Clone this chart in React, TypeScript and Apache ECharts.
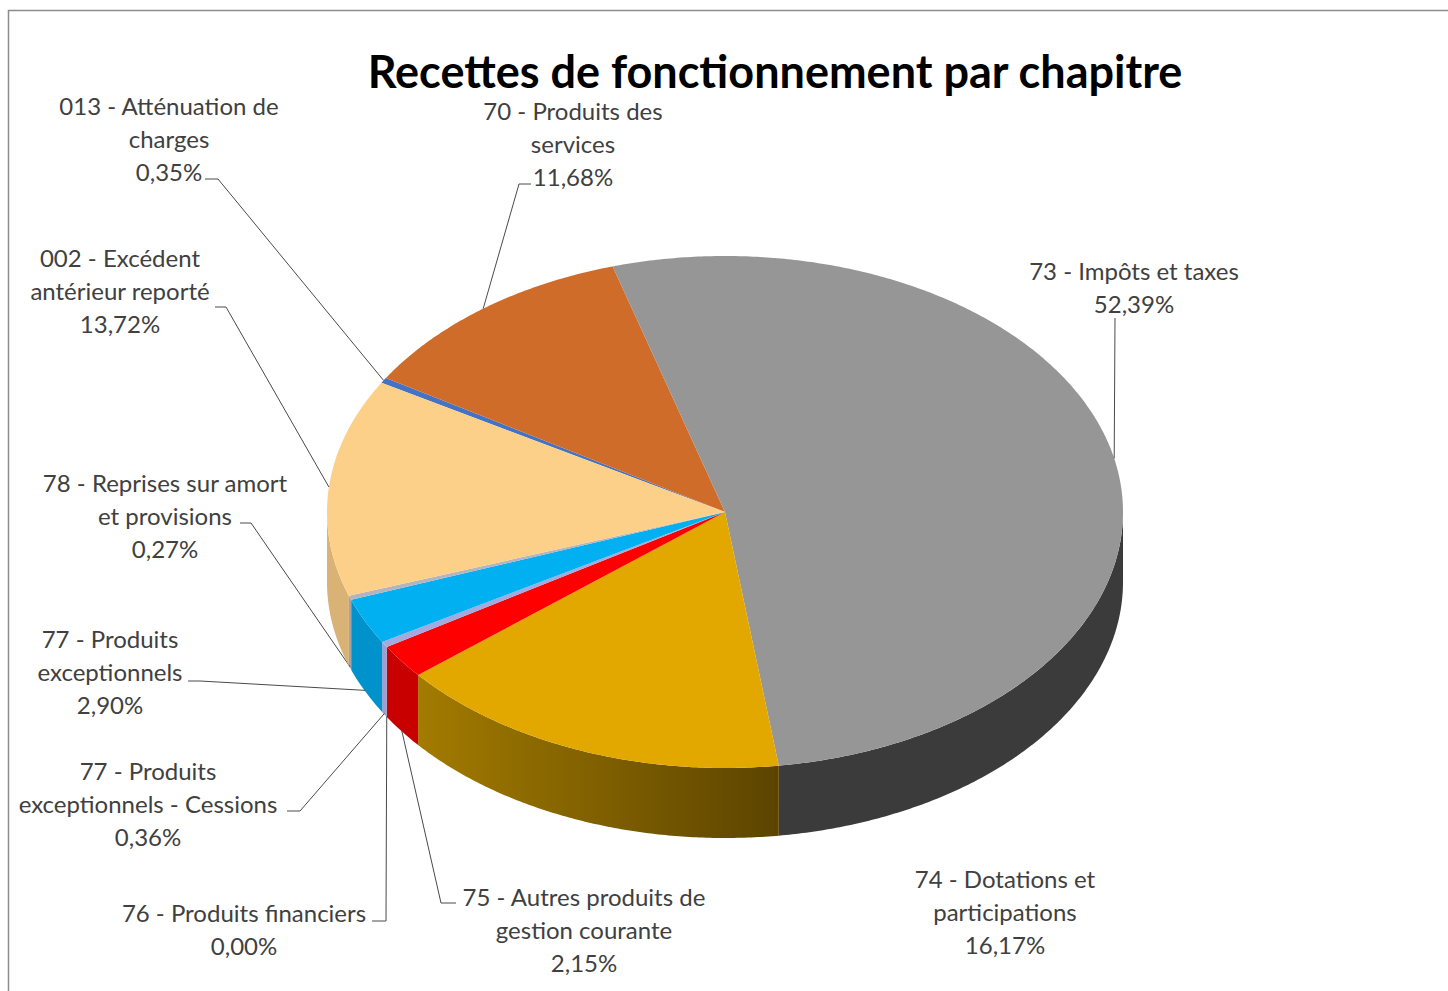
import React, { useEffect, useRef } from "react";
import * as echarts from "echarts";

// ---- data (clockwise order as drawn) ----
const categories = [
  "013 - Atténuation de\ncharges",
  "70 - Produits des\nservices",
  "73 - Impôts et taxes",
  "74 - Dotations et\nparticipations",
  "75 - Autres produits de\ngestion courante",
  "76 - Produits financiers",
  "77 - Produits\nexceptionnels - Cessions",
  "77 - Produits\nexceptionnels",
  "78 - Reprises sur amort\net provisions",
  "002 - Excédent\nantérieur reporté",
];
const values = [0.35, 11.68, 52.39, 16.17, 2.15, 0.0, 0.36, 2.9, 0.27, 13.72];

// ---- styles ----
const topColors = ["#4472C4", "#D06C2A", "#969696", "#E3A800", "#FF0000", "#A5A5A5", "#A3AADF", "#00B0F0", "#B4B4BE", "#FDD08A"];
const sideColors: any[] = [
  "#34589A",
  "#A4521E",
  "#3B3B3B",
  new echarts.graphic.LinearGradient(0, 0, 1, 0, [
    { offset: 0, color: "#A37B00" },
    { offset: 1, color: "#5C4400" },
  ]),
  "#C80000",
  "#888888",
  "#9C9FD3",
  "#0093CB",
  "#A2A2AA",
  "#D9B375",
];

// ---- layout ----
const START_ANGLE = 300.3; // degrees, clockwise from far side
const CX = 725;
const CY = 512;
const RX = 398;
const RY = 256;
const DEPTH = 70;
const labelCenters: [number, number][] = [
  [169, 138], [573, 143], [1134, 287], [1005, 911], [584, 929],
  [244, 929], [148, 803], [110, 671], [165, 515], [120, 290],
];
const leaderPoints: ([number, number][] | null)[] = [
  [[205, 179], [218, 179]],
  [[531, 184], [519, 184]],
  [[1115, 318]],
  null,
  [[456, 903], [441, 903]],
  [[372, 921], [386, 921]],
  [[287, 811], [300, 811]],
  [[188, 681], [200, 681]],
  [[240, 523], [251, 523]],
  [[215, 307], [226, 307]],
];

const FONT = "Lato, 'Open Sans', sans-serif";

function pt(theta: number, dy = 0): [number, number] {
  const r = (theta * Math.PI) / 180;
  return [CX + RX * Math.sin(r), CY - RY * Math.cos(r) + dy];
}
function arc(a: number, b: number, dy = 0): [number, number][] {
  const n = Math.max(2, Math.ceil((b - a) / 0.5));
  const out: [number, number][] = [];
  for (let i = 0; i <= n; i++) out.push(pt(a + ((b - a) * i) / n, dy));
  return out;
}

export default function App() {
  const ref = useRef<HTMLDivElement>(null);
  useEffect(() => {
    const chart = echarts.init(ref.current!, null, { renderer: "svg" });
    const total = values.reduce((s, v) => s + v, 0);
    const starts: number[] = [];
    let acc = START_ANGLE;
    values.forEach((v) => {
      starts.push(acc);
      acc += (v / total) * 360;
    });

    const renderItem = (params: any, api: any) => {
      const i = params.dataIndex;
      const v = api.value(0);
      const span = (v / total) * 360;
      const a = starts[i] % 360;
      const b = a + span;
      const children: any[] = [];
      if (span > 0) {
        // visible front wall
        [[90, 270], [450, 630]].forEach(([lo, hi]) => {
          const s = Math.max(a, lo);
          const e = Math.min(b, hi);
          if (e > s) {
            const pts = arc(s, e).concat(arc(s, e, DEPTH).reverse());
            children.push({
              type: "polygon",
              shape: { points: pts },
              style: { fill: sideColors[i], stroke: null },
            });
          }
        });
        // top face
        children.push({
          type: "polygon",
          shape: { points: [[CX, CY] as [number, number]].concat(arc(a, b)) },
          style: { fill: topColors[i], stroke: null },
        });
      }
      // label
      const pct = v.toFixed(2).replace(".", ",") + "%";
      const [lx, ly] = labelCenters[i];
      children.push({
        type: "text",
        style: {
          text: categories[i] + "\n" + pct,
          x: lx,
          y: ly,
          align: "center",
          verticalAlign: "middle",
          fontFamily: FONT,
          fontSize: 24,
          lineHeight: 33,
          fill: "#404040",
        },
      });
      // leader line
      const lp = leaderPoints[i];
      if (lp) {
        const mid = a + span / 2;
        const c = Math.cos((mid * Math.PI) / 180);
        const anchor = pt(mid, c < 0 ? DEPTH - 1 : 0);
        children.push({
          type: "polyline",
          shape: { points: lp.concat([anchor]) },
          style: { stroke: "#4a4a4a", lineWidth: 1, fill: null },
        });
      }
      return { type: "group", children };
    };

    chart.setOption({
      animation: false,
      backgroundColor: "#ffffff",
      title: {
        text: "Recettes de fonctionnement par chapitre",
        left: 770,
        top: 43,
        textAlign: "center",
        textStyle: { fontFamily: FONT, fontSize: 45, fontWeight: "bold", color: "#000000" },
      },
      graphic: [
        {
          type: "rect",
          shape: { x: 8.5, y: 10.5, width: 1600, height: 1200 },
          style: { fill: "none", stroke: "#8c8c8c", lineWidth: 1.5 },
          silent: true,
        },
      ],
      series: [
        {
          type: "custom",
          coordinateSystem: "none",
          renderItem,
          data: values.map((v) => [v]),
        },
      ],
    });
    return () => chart.dispose();
  }, []);
  return (
    <div
      ref={ref}
      style={{ position: "fixed", left: 0, top: 0, width: 1448, height: 991, background: "#fff" }}
    />
  );
}
